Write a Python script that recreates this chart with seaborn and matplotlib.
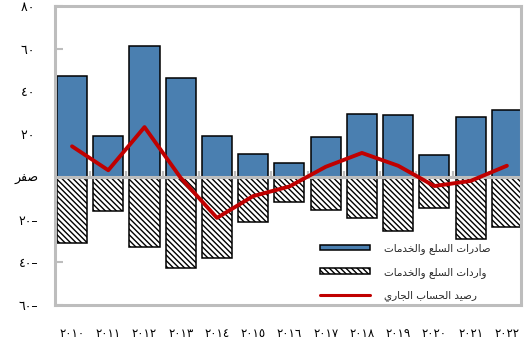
import numpy as np
import pandas as pd
import matplotlib
matplotlib.use("Agg")
import matplotlib.pyplot as plt
from matplotlib.patches import Patch
from matplotlib.lines import Line2D
import seaborn as sns

# ---- data -------------------------------------------------------------
years = ["2010", "2011", "2012", "2013", "2014", "2015", "2016",
         "2017", "2018", "2019", "2020", "2021", "2022"]
exports = [47.3, 18.9, 61.1, 46.2, 19.1, 10.7, 6.6, 18.6, 29.6, 29.0, 10.3, 28.0, 31.1]
imports = [-31.0, -16.1, -33.0, -42.9, -38.1, -21.1, -11.8, -15.3, -19.2, -25.2, -14.5, -29.0, -23.3]
current_account = [14.3, 3.1, 23.3, -0.5, -19.2, -9.0, -4.5, 4.7, 11.2, 5.2, -4.3, -1.9, 5.2]
y_ticks = [-60, -40, -20, 0, 20, 40, 60, 80]

label_exports = "صادرات السلع والخدمات"
label_imports = "واردات السلع والخدمات"
label_balance = "رصيد الحساب الجاري"
label_zero = "صفر"

# ---- Arabic text helpers (matplotlib has no text shaping) -------------
# letter: (isolated, final, initial, medial); None = does not join forward
FORMS = {
    "ا": ("\uFE8D", "\uFE8E", None, None),
    "ب": ("\uFE8F", "\uFE90", "\uFE91", "\uFE92"),
    "ت": ("\uFE95", "\uFE96", "\uFE97", "\uFE98"),
    "ج": ("\uFE9D", "\uFE9E", "\uFE9F", "\uFEA0"),
    "ح": ("\uFEA1", "\uFEA2", "\uFEA3", "\uFEA4"),
    "خ": ("\uFEA5", "\uFEA6", "\uFEA7", "\uFEA8"),
    "د": ("\uFEA9", "\uFEAA", None, None),
    "ر": ("\uFEAD", "\uFEAE", None, None),
    "س": ("\uFEB1", "\uFEB2", "\uFEB3", "\uFEB4"),
    "ص": ("\uFEB9", "\uFEBA", "\uFEBB", "\uFEBC"),
    "ع": ("\uFEC9", "\uFECA", "\uFECB", "\uFECC"),
    "ف": ("\uFED1", "\uFED2", "\uFED3", "\uFED4"),
    "ل": ("\uFEDD", "\uFEDE", "\uFEDF", "\uFEE0"),
    "م": ("\uFEE1", "\uFEE2", "\uFEE3", "\uFEE4"),
    "و": ("\uFEED", "\uFEEE", None, None),
    "ي": ("\uFEF1", "\uFEF2", "\uFEF3", "\uFEF4"),
}


def shape(text):
    out = []
    for i, ch in enumerate(text):
        if ch not in FORMS:
            out.append(ch)
            continue
        iso, fin, ini, med = FORMS[ch]
        prev = text[i - 1] if i > 0 else ""
        nxt = text[i + 1] if i + 1 < len(text) else ""
        joins_prev = prev in FORMS and FORMS[prev][2] is not None
        joins_next = nxt in FORMS and ini is not None
        if joins_prev and joins_next:
            out.append(med)
        elif joins_prev:
            out.append(fin)
        elif joins_next:
            out.append(ini)
        else:
            out.append(iso)
    return "".join(reversed(out))


DIGITS = str.maketrans("0123456789", "٠١٢٣٤٥٦٧٨٩")


def arabic_num(v):
    if v == 0:
        return shape(label_zero)
    if v < 0:
        return str(abs(v)).translate(DIGITS) + "–"
    return str(v).translate(DIGITS) + " "


# ---- figure -----------------------------------------------------------
sns.set_theme(style="white")
plt.rcParams["font.family"] = ["DejaVu Sans"]
plt.rcParams["hatch.linewidth"] = 1.0

BLUE = "#4a7fb0"
RED = "#c00000"
GRAY = "#bdbdbd"
HATCH = "\\" * 6

df = pd.DataFrame({
    "pos": np.arange(len(years)),
    "exports": exports,
    "imports": imports,
    "balance": current_account,
})

fig = plt.figure(figsize=(5.24, 3.41), dpi=100)
ax = fig.add_axes([55 / 524, 36 / 341, 466 / 524, 299 / 341])

sns.barplot(data=df, x="pos", y="exports", color=BLUE, saturation=1,
            width=0.83, edgecolor="black", linewidth=1.1, ax=ax, zorder=2)
sns.barplot(data=df, x="pos", y="imports", color="white", saturation=1,
            width=0.83, edgecolor="black", linewidth=1.1, hatch=HATCH,
            ax=ax, zorder=2)

# zero line with category separators
ax.axhline(0, color=GRAY, lw=2.2, zorder=3)
ax.vlines(np.arange(len(years) - 1) + 0.5, 0, 2.8, color=GRAY, lw=1.6, zorder=3)

sns.lineplot(data=df, x="pos", y="balance", color=RED, lw=2.8, sort=False,
             ax=ax, zorder=4)

ax.set_xlim(-0.47, len(years) - 0.61)
ax.set_ylim(-60, 80)
ax.set_xlabel("")
ax.set_ylabel("")

ax.set_xticks(np.arange(len(years)), [y.translate(DIGITS) for y in years])
ax.set_yticks(y_ticks, [arabic_num(v) for v in y_ticks])
ax.tick_params(axis="x", length=0, pad=16, labelsize=8.5, labelcolor="black")
ax.tick_params(axis="y", direction="in", length=6, width=1.5, color=GRAY,
               pad=12, labelsize=9, labelcolor="black", left=True)

for sp in ax.spines.values():
    sp.set_visible(True)
    sp.set_color(GRAY)
    sp.set_linewidth(2.2)

handles = [
    Patch(facecolor=BLUE, edgecolor="black", linewidth=1.1),
    Patch(facecolor="white", edgecolor="black", linewidth=1.1, hatch=HATCH),
    Line2D([], [], color=RED, lw=2.2),
]
labels = [shape(label_exports), shape(label_imports), shape(label_balance)]
ax.legend(handles, labels, loc="lower right", bbox_to_anchor=(0.955, -0.018),
          frameon=False, fontsize=7.5, handlelength=4.8, handleheight=0.5,
          labelspacing=1.2, handletextpad=1.3)

fig.savefig("out.png", dpi=100)
